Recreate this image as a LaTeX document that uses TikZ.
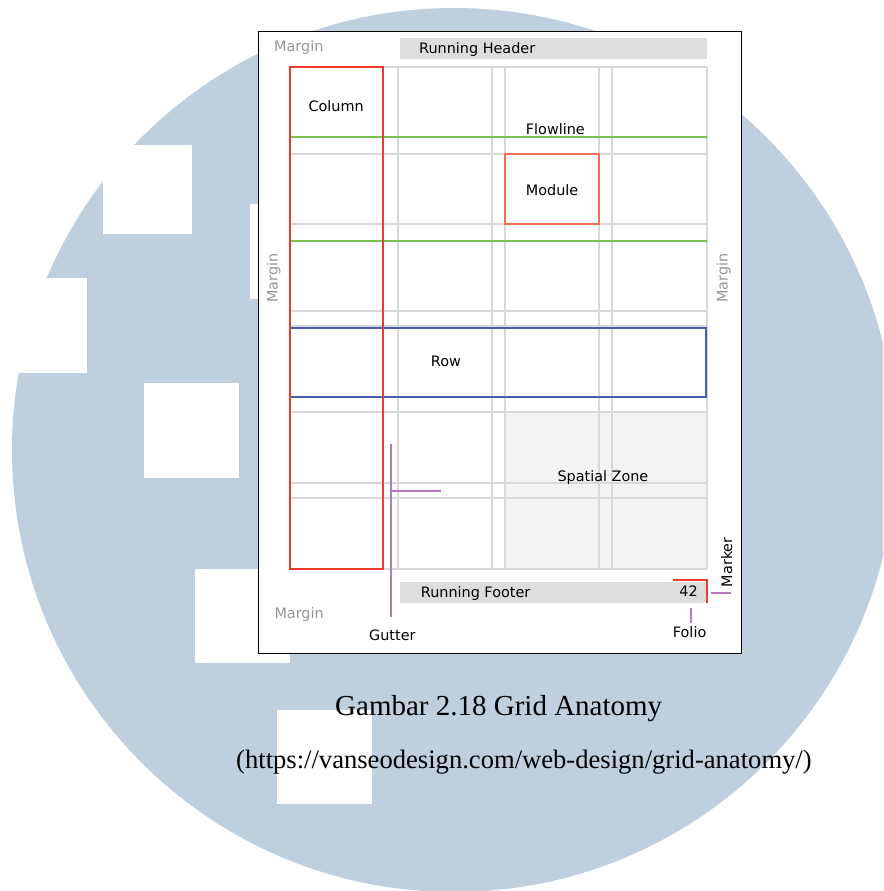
\documentclass[tikz,border=0pt]{standalone}
\usepackage{fontspec}
\setmainfont{Liberation Serif}
\newfontfamily\uifont{DejaVu Sans}

\definecolor{circleBlue}{RGB}{192,207,221}
\definecolor{barGray}{RGB}{222,221,219}
\definecolor{gridGray}{RGB}{216,216,216}
\definecolor{zoneGray}{RGB}{243,243,242}
\definecolor{marginGray}{RGB}{150,150,150}
\definecolor{colRed}{RGB}{240,58,46}
\definecolor{moduleRed}{RGB}{240,112,90}
\definecolor{flowGreen}{RGB}{122,192,84}
\definecolor{rowBlue}{RGB}{76,92,172}
\definecolor{leaderPurple}{RGB}{184,120,190}

\begin{document}
\begin{tikzpicture}[x=1pt,y=-1pt,
  lbl/.style={font=\uifont\fontsize{14.4}{16}\selectfont, text=black, inner sep=0pt, anchor=base west},
  mlbl/.style={lbl, text=marginGray},
  gridline/.style={draw=gridGray, line width=1.3pt},
  leader/.style={draw=leaderPurple, line width=1.2pt},
  capfont/.style={inner sep=0pt, anchor=base west, text=black},
]
\useasboundingbox (0,0) rectangle (883,891);
\clip (0,0) rectangle (883,891);
\fill[white] (0,0) rectangle (883,891);

% watermark disc with square cut-outs
\fill[circleBlue] (454,450) circle[radius=442pt];
\fill[white] (103,145) rectangle (192,234);
\fill[white] (250,204) rectangle (262,299);
\fill[white] (0,278) rectangle (87,373);
\fill[white] (144,383) rectangle (239,478);
\fill[white] (195,569) rectangle (290,663);
\fill[white] (277,710) rectangle (372,804);

% page
\filldraw[fill=white, draw=black, line width=1pt] (258,32) rectangle (741,653);

% header bar
\fill[barGray] (400,38) rectangle (707,59);
\node[lbl] (header) at (419,54) {Running Header};
\node[mlbl] (mtop) at (274,51.7) {Margin};

% spatial zone
\fill[zoneGray] (505,412) rectangle (707,569);

% grid lines
\foreach \gx in {290,383,398,492,505,599,612,707}
  \draw[gridline] (\gx,67) -- (\gx,569);
\foreach \gy in {67,137,154,224,241,311,326,397,412,483,498,569}
  \draw[gridline] (290,\gy) -- (707,\gy);

% flowlines
\draw[draw=flowGreen, line width=2.2pt] (290,137) -- (707,137);
\draw[draw=flowGreen, line width=2.2pt] (290,241) -- (707,241);

% module
\draw[draw=moduleRed, line width=1.6pt] (505,154) rectangle (599,224);

% row
\draw[draw=rowBlue, line width=2.2pt] (290,328) rectangle (706,397);

% column
\draw[draw=colRed, line width=2.2pt] (290,67) rectangle (383,569);

% labels inside the grid
\node[lbl] (column) at (308.3,111) {Column};
\node[lbl] (flowline) at (525.7,134.3) {Flowline};
\node[lbl] (module) at (525.7,195.3) {Module};
\node[lbl] (row) at (430.7,366.7) {Row};
\node[lbl] (zone) at (557.3,481) {Spatial Zone};

% side margins
\node[mlbl, rotate=90] (mleft) at (277.7,302.7) {Margin};
\node[mlbl, rotate=90] (mright) at (727.7,302.7) {Margin};
\node[mlbl] (mbottom) at (274.3,618) {Margin};

% gutter leader
\node[lbl] (gutter) at (369,640) {Gutter};
\coordinate (gutterTop) at (391,444);
\coordinate (gutterBot) at (391,617);
\coordinate (gutterJoin) at (391,491);
\coordinate (gutterArm) at (441,491);
\draw[leader] (gutterTop) -- (gutterBot);
\draw[leader] (gutterJoin) -- (gutterArm);

% footer bar and folio
\fill[barGray] (400,582) rectangle (707,603);
\node[lbl] (footer) at (420.7,597.7) {Running Footer};
\node[lbl, anchor=base east] (folionum) at (698,596.7) {42};
\coordinate (markA) at (673,580);
\coordinate (markB) at (707,603);
\draw[draw=colRed, line width=2pt] (markA) -| (markB);

% marker leader
\node[lbl, rotate=90] (marker) at (732,587.3) {Marker};
\coordinate (markerL) at (711,593);
\coordinate (markerR) at (731,593);
\draw[leader] (markerL) -- (markerR);

% folio leader
\node[lbl] (folio) at (672.7,637.7) {Folio};
\coordinate (folioTop) at (691,608);
\coordinate (folioBot) at (691,623);
\draw[leader] (folioTop) -- (folioBot);

% caption
\node[capfont, font=\fontsize{29}{32}\selectfont] (caption) at (335,715.7) {Gambar 2.18 Grid Anatomy};
\node[capfont, font=\fontsize{26.6}{30}\selectfont] (source) at (236,768) {(https://vanseodesign.com/web-design/grid-anatomy/)};
\end{tikzpicture}
\end{document}
